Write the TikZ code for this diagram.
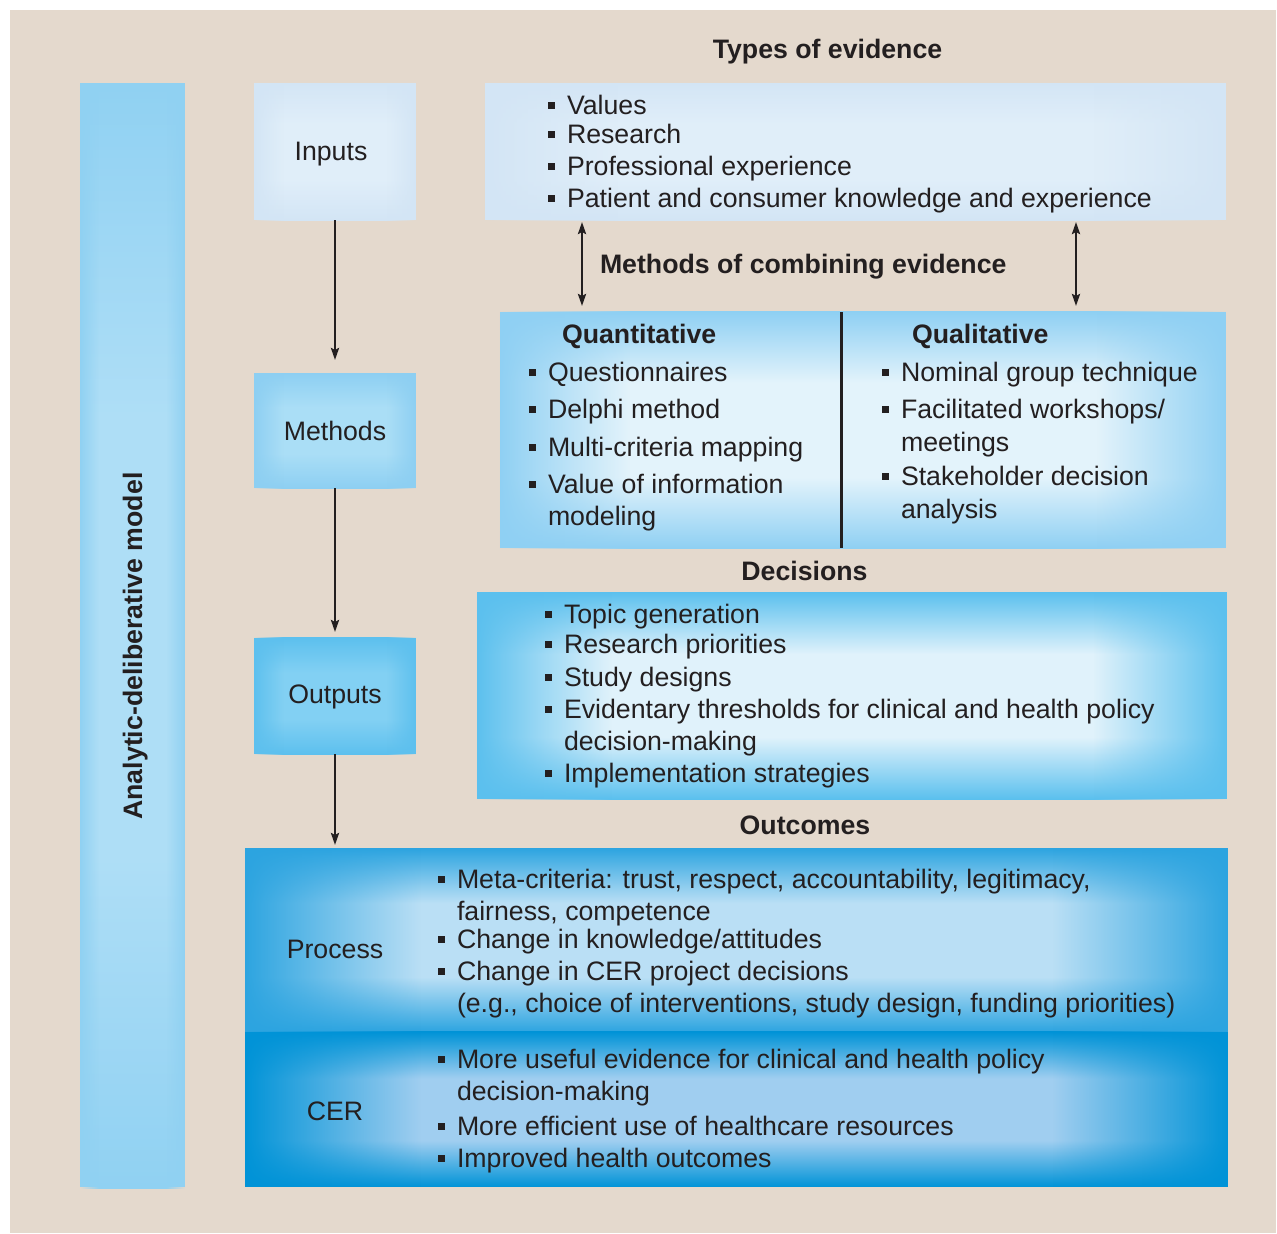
\documentclass[tikz,border=0pt]{standalone}
\usepackage{fontspec}
\setmainfont{Liberation Sans}
\usetikzlibrary{arrows.meta,fadings,calc}

\definecolor{beige}{HTML}{E4D9CD}
\definecolor{ink}{HTML}{231F20}
\definecolor{barO}{HTML}{90D1F2}
\definecolor{barI}{HTML}{AEDEF6}
\definecolor{inO}{HTML}{D3E5F5}
\definecolor{inI}{HTML}{E0EEF9}
\definecolor{mwO}{HTML}{8FD0F3}
\definecolor{mwI}{HTML}{E3F3FB}
\definecolor{msO}{HTML}{8DCFF2}
\definecolor{msI}{HTML}{AADEF6}
\definecolor{ouO}{HTML}{5DC0EE}
\definecolor{ouI}{HTML}{82D0F3}
\definecolor{deO}{HTML}{5BC0EE}
\definecolor{deI}{HTML}{E0F2FB}
\definecolor{prO}{HTML}{2CA4E0}
\definecolor{prI}{HTML}{BADFF5}
\definecolor{ceO}{HTML}{0093D7}
\definecolor{ceI}{HTML}{A0CEF0}

% the path covers the 25bp..75bp part of a 100bp shading or fading
\pgfdeclarehorizontalshading{hglowshade}{100bp}{color(0bp)=(black);color(25bp)=(black);color(34bp)=(white);color(66bp)=(white);color(75bp)=(black);color(100bp)=(black)}
\pgfdeclarefading{hglow}{\pgfuseshading{hglowshade}}

\newcommand\mkvshade[3]{\pgfdeclareverticalshading{#1}{100bp}{color(0bp)=(#2);color(25bp)=(#2);color(40bp)=(#3);color(60bp)=(#3);color(75bp)=(#2);color(100bp)=(#2)}}
\mkvshade{vBar}{barO}{barI}
\mkvshade{vIn}{inO}{inI}
\mkvshade{vMw}{mwO}{mwI}
\mkvshade{vMs}{msO}{msI}
\mkvshade{vOu}{ouO}{ouI}
\mkvshade{vDe}{deO}{deI}
\mkvshade{vPr}{prO}{prI}
\mkvshade{vCe}{ceO}{ceI}

\newcommand\glow[3]{%
  \fill[#2] (#1.north west) rectangle (#1.south east);
  \shade[shading=#3, path fading=hglow] (#1.north west) rectangle (#1.south east);}

\newcommand\fs{\fontsize{26.7}{32}\selectfont}
\newcommand\bul{\rule[5pt]{7pt}{7pt}\hspace{12pt}}

\begin{document}
\begin{tikzpicture}[x=1pt,y=-1pt,
  box/.style={rectangle, inner sep=0pt, outer sep=0pt},
  ln/.style={anchor=base west, inner sep=0pt, outer sep=0pt, font=\fs, text=ink},
  lbl/.style={anchor=base, inner sep=0pt, outer sep=0pt, font=\fs, text=ink},
  ttl/.style={anchor=base, inner sep=0pt, outer sep=0pt, font=\fs\bfseries, text=ink},
  con/.style={draw=ink, line width=2.5pt},
  >={Stealth[length=12pt,width=8pt,inset=2pt]}]

\useasboundingbox (0,0) rectangle (1277,1234);
\fill[white] (0,0) rectangle (1277,1234);
\fill[beige] (10,10) rectangle (1276,1233);

% boxes
\node[box, minimum width=105pt, minimum height=1104pt] (bar) at (132.5,635) {};
\node[box, minimum width=162pt, minimum height=137pt] (inputs) at (335,151.5) {};
\node[box, minimum width=741pt, minimum height=137pt] (types) at (855.5,151.5) {};
\node[box, minimum width=162pt, minimum height=115pt] (methods) at (335,430.5) {};
\node[box, minimum width=726pt, minimum height=236pt] (methodsW) at (863,430) {};
\node[box, minimum width=162pt, minimum height=116pt] (outputs) at (335,696) {};
\node[box, minimum width=750pt, minimum height=207pt] (decisions) at (852,695.5) {};
\node[box, minimum width=983pt, minimum height=184pt] (process) at (736.5,940) {};
\node[box, minimum width=983pt, minimum height=155pt] (cer) at (736.5,1109.5) {};

\glow{bar}{barO}{vBar}
\glow{inputs}{inO}{vIn}
\glow{types}{inO}{vIn}
\glow{methods}{msO}{vMs}
\glow{methodsW}{mwO}{vMw}
\glow{outputs}{ouO}{vOu}
\glow{decisions}{deO}{vDe}
\glow{process}{prO}{vPr}
\glow{cer}{ceO}{vCe}

% divider
\coordinate (dx) at (841,0);
\draw[draw=ink, line width=3pt] (methodsW.north -| dx) -- (methodsW.south -| dx);

% connectors
\draw[con,->, shorten >=13pt] (inputs.south) -- (methods.north);
\draw[con,->, shorten >=6pt] (methods.south) -- (outputs.north);
\draw[con,->, shorten >=3pt] (outputs.south) -- (outputs.south |- process.north);
\coordinate (ax1) at (582,0);
\coordinate (ax2) at (1076,0);
\draw[con,<->, shorten <=2pt, shorten >=6pt] (types.south -| ax1) -- (methodsW.north -| ax1);
\draw[con,<->, shorten <=2pt, shorten >=6pt] (types.south -| ax2) -- (methodsW.north -| ax2);

% titles
\node[ttl, rotate=90] (adm) at (142,646) {Analytic-deliberative model};
\node[ttl] (tTypes) at (827.5,58) {Types of evidence};
\node[ttl, anchor=base west] (tComb) at (600,273) {Methods of combining evidence};
\node[ttl, anchor=base west] (tQuant) at (562,343) {Quantitative};
\node[ttl, anchor=base west] (tQual) at (912,343) {Qualitative};
\node[ttl] (tDec) at (804.5,580) {Decisions};
\node[ttl] (tOut) at (805,834) {Outcomes};

% left labels
\node[lbl] (lInputs) at (331,160) {Inputs};
\node[lbl] (lMethods) at (335,440) {Methods};
\node[lbl] (lOutputs) at (335,703) {Outputs};
\node[lbl] (lProcess) at (335,958) {Process};
\node[lbl] (lCER) at (335,1120) {CER};

% types of evidence
\node[ln] (e1) at (548,114) {\bul Values};
\node[ln] (e2) at (548,143) {\bul Research};
\node[ln] (e3) at (548,175) {\bul Professional experience};
\node[ln] (e4) at (548,207) {\bul Patient and consumer knowledge and experience};

% quantitative
\node[ln] (q1) at (529,381) {\bul Questionnaires};
\node[ln] (q2) at (529,418) {\bul Delphi method};
\node[ln] (q3) at (529,456) {\bul Multi-criteria mapping};
\node[ln] (q4) at (529,493) {\bul Value of information};
\node[ln] (q5) at (548,525) {modeling};

% qualitative
\node[ln] (l1) at (882,381) {\bul Nominal group technique};
\node[ln] (l2) at (882,418) {\bul Facilitated workshops/};
\node[ln] (l3) at (901,451) {meetings};
\node[ln] (l4) at (882,485) {\bul Stakeholder decision};
\node[ln] (l5) at (901,518) {analysis};

% decisions
\node[ln] (d1) at (545,623) {\bul Topic generation};
\node[ln] (d2) at (545,653) {\bul Research priorities};
\node[ln] (d3) at (545,686) {\bul Study designs};
\node[ln] (d4) at (545,718) {\bul Evidentary thresholds for clinical and health policy};
\node[ln] (d5) at (564,750) {decision-making};
\node[ln] (d6) at (545,782) {\bul Implementation strategies};

% process
\node[ln] (p1) at (438,888) {\bul Meta-criteria: trust, respect, accountability, legitimacy,};
\node[ln] (p2) at (457,920) {fairness, competence};
\node[ln] (p3) at (438,948) {\bul Change in knowledge/attitudes};
\node[ln] (p4) at (438,980) {\bul Change in CER project decisions};
\node[ln] (p5) at (457,1012) {(e.g., choice of interventions, study design, funding priorities)};

% CER
\node[ln] (c1) at (438,1068) {\bul More useful evidence for clinical and health policy};
\node[ln] (c2) at (457,1100) {decision-making};
\node[ln] (c3) at (438,1135) {\bul More efficient use of healthcare resources};
\node[ln] (c4) at (438,1167) {\bul Improved health outcomes};
\end{tikzpicture}
\end{document}
